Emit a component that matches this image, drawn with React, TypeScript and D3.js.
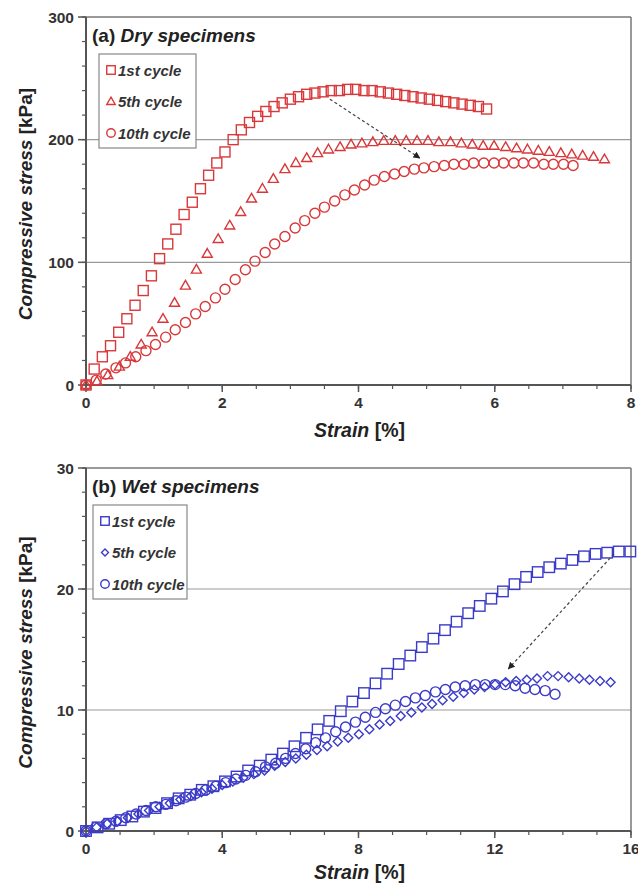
import React from "react";
import * as d3 from "d3";

// (a) dry specimens: [strain %, stress kPa]
const dry1st = [
  [0, 0], [0.12, 13], [0.24, 23], [0.36, 32], [0.48, 43], [0.6, 54], [0.72, 65], [0.84, 77], [0.96, 89],
  [1.08, 103], [1.2, 115], [1.32, 127], [1.44, 139], [1.56, 149], [1.68, 160], [1.8, 171], [1.92, 181],
  [2.04, 190], [2.16, 200], [2.28, 208], [2.4, 214], [2.52, 219], [2.64, 223], [2.76, 227], [2.88, 230],
  [3.0, 233], [3.12, 235], [3.24, 237], [3.36, 238], [3.48, 239], [3.6, 240], [3.72, 240], [3.84, 241],
  [3.96, 241], [4.08, 240], [4.2, 240], [4.32, 239], [4.44, 238], [4.56, 237], [4.68, 236], [4.8, 235],
  [4.92, 234], [5.04, 233], [5.16, 232], [5.28, 231], [5.4, 230], [5.52, 229], [5.64, 228], [5.76, 227],
  [5.88, 225],
];
const dry5th = [
  [0, 0], [0.16, 3], [0.32, 8], [0.49, 15], [0.65, 23], [0.81, 33], [0.97, 43], [1.13, 54], [1.3, 67],
  [1.46, 81], [1.62, 94], [1.78, 107], [1.94, 119], [2.11, 130], [2.27, 141], [2.43, 152], [2.59, 160],
  [2.75, 168], [2.92, 176], [3.08, 181], [3.24, 185], [3.4, 189], [3.56, 192], [3.73, 194], [3.89, 196],
  [4.05, 197], [4.21, 198], [4.37, 199], [4.54, 199], [4.7, 199], [4.86, 199], [5.02, 199], [5.18, 198],
  [5.35, 198], [5.51, 197], [5.67, 196], [5.83, 195], [5.99, 195], [6.16, 194], [6.32, 193], [6.48, 192],
  [6.64, 191], [6.8, 190], [6.97, 189], [7.13, 188], [7.29, 187], [7.45, 186], [7.61, 184],
];
const dry10th = [
  [0, 0], [0.15, 4], [0.29, 9], [0.44, 14], [0.58, 18], [0.73, 23], [0.88, 28], [1.02, 33], [1.17, 39],
  [1.31, 45], [1.46, 51], [1.61, 58], [1.75, 64], [1.9, 71], [2.04, 78], [2.19, 86], [2.34, 94],
  [2.48, 101], [2.63, 108], [2.77, 115], [2.92, 121], [3.07, 128], [3.21, 134], [3.36, 140], [3.5, 145],
  [3.65, 150], [3.8, 155], [3.94, 159], [4.09, 163], [4.23, 167], [4.38, 170], [4.53, 172], [4.67, 174],
  [4.82, 176], [4.96, 177], [5.11, 178], [5.26, 179], [5.4, 180], [5.55, 180], [5.69, 181], [5.84, 181],
  [5.99, 181], [6.13, 181], [6.28, 181], [6.42, 181], [6.57, 181], [6.72, 180], [6.86, 180], [7.01, 180],
  [7.15, 179],
];

// (b) wet specimens
const wet1st = [
  [0, 0], [0.34, 0.3], [0.68, 0.6], [1.02, 0.9], [1.36, 1.2], [1.7, 1.6], [2.04, 1.9], [2.38, 2.3],
  [2.72, 2.7], [3.06, 3.0], [3.4, 3.4], [3.74, 3.7], [4.08, 4.1], [4.42, 4.5], [4.76, 5.0], [5.1, 5.4],
  [5.44, 5.9], [5.78, 6.4], [6.12, 7.0], [6.46, 7.7], [6.8, 8.4], [7.14, 9.1], [7.48, 9.9], [7.82, 10.7],
  [8.16, 11.4], [8.5, 12.2], [8.84, 13.0], [9.18, 13.8], [9.52, 14.5], [9.86, 15.2], [10.2, 15.9],
  [10.54, 16.6], [10.88, 17.3], [11.22, 18.0], [11.56, 18.6], [11.9, 19.2], [12.24, 19.8], [12.58, 20.4],
  [12.92, 21.0], [13.26, 21.4], [13.6, 21.8], [13.94, 22.1], [14.28, 22.4], [14.62, 22.7], [14.96, 22.9],
  [15.3, 23.0], [15.64, 23.1], [15.98, 23.1],
];
const wet5th = [
  [0, 0], [0.31, 0.3], [0.62, 0.6], [0.92, 0.8], [1.23, 1.1], [1.54, 1.4], [1.85, 1.7], [2.16, 2.0],
  [2.46, 2.3], [2.77, 2.6], [3.08, 2.9], [3.39, 3.2], [3.7, 3.5], [4.0, 3.8], [4.31, 4.1], [4.62, 4.4],
  [4.93, 4.7], [5.24, 5.0], [5.54, 5.4], [5.85, 5.7], [6.16, 6.0], [6.47, 6.3], [6.78, 6.7], [7.08, 7.0],
  [7.39, 7.4], [7.7, 7.7], [8.01, 8.0], [8.32, 8.4], [8.62, 8.8], [8.93, 9.1], [9.24, 9.5], [9.55, 9.8],
  [9.86, 10.2], [10.16, 10.5], [10.47, 10.8], [10.78, 11.1], [11.09, 11.4], [11.4, 11.7], [11.7, 11.9],
  [12.01, 12.1], [12.32, 12.3], [12.63, 12.4], [12.94, 12.5], [13.24, 12.6], [13.55, 12.8], [13.86, 12.8],
  [14.17, 12.7], [14.48, 12.6], [14.78, 12.5], [15.09, 12.4], [15.4, 12.3],
];
const wet10th = [
  [0, 0], [0.29, 0.3], [0.59, 0.6], [0.88, 0.8], [1.17, 1.1], [1.47, 1.4], [1.76, 1.7], [2.05, 2.0],
  [2.34, 2.2], [2.64, 2.5], [2.93, 2.8], [3.22, 3.1], [3.52, 3.4], [3.81, 3.7], [4.1, 4.0], [4.4, 4.3],
  [4.69, 4.6], [4.98, 4.9], [5.27, 5.3], [5.57, 5.6], [5.86, 6.0], [6.15, 6.4], [6.45, 6.8], [6.74, 7.3],
  [7.03, 7.7], [7.33, 8.2], [7.62, 8.6], [7.91, 9.0], [8.2, 9.4], [8.5, 9.8], [8.79, 10.1], [9.08, 10.4],
  [9.38, 10.7], [9.67, 11.0], [9.96, 11.2], [10.26, 11.5], [10.55, 11.7], [10.84, 11.9], [11.13, 12.0],
  [11.43, 12.1], [11.72, 12.1], [12.01, 12.1], [12.31, 12.1], [12.6, 12.0], [12.89, 11.8], [13.18, 11.7],
  [13.48, 11.6], [13.77, 11.3],
];

const cycleLabels = ["1st cycle", "5th cycle", "10th cycle"];
const dryTicksX = [0, 2, 4, 6, 8];
const dryTicksY = [0, 100, 200, 300];
const wetTicksX = [0, 4, 8, 12, 16];
const wetTicksY = [0, 10, 20, 30];
const dryArrow = [[3.58, 233], [4.9, 185]];
const wetArrow = [[15.5, 22.9], [12.4, 13.4]];

const RED = "#d9383a";
const BLUE = "#3b3bc8";
const FONT = "'Liberation Sans', Arial, sans-serif";

function Marker({ kind, x, y, size, color }) {
  const s = size;
  if (kind === "square")
    return <rect x={x - s / 2} y={y - s / 2} width={s} height={s} fill="none" stroke={color} strokeWidth={1.4} />;
  if (kind === "circle")
    return <circle cx={x} cy={y} r={s / 2} fill="none" stroke={color} strokeWidth={1.4} />;
  if (kind === "diamond") {
    const d = s * 0.5;
    return <path d={`M${x},${y - d}L${x + d},${y}L${x},${y + d}L${x - d},${y}Z`} fill="none" stroke={color} strokeWidth={1.4} />;
  }
  // triangle
  const h = s * 0.87;
  return <path d={`M${x},${y - h * 0.6}L${x + s / 2},${y + h * 0.4}L${x - s / 2},${y + h * 0.4}Z`} fill="none" stroke={color} strokeWidth={1.4} />;
}

function Panel({ top, bottom, xMax, yMax, xTicks, yTicks, series, kinds, sizes, color, title, tag, legend, arrow, arrowId, xLabelDy }) {
  const left = 86, right = 631;
  const x = d3.scaleLinear().domain([0, xMax]).range([left, right]);
  const y = d3.scaleLinear().domain([0, yMax]).range([bottom, top]);
  const xMinor = d3.range(0, xMax + 0.001, xMax / 16);
  const yMinor = d3.range(0, yMax + 0.001, yMax / 15);
  return (
    <g fontFamily={FONT}>
      {/* grid */}
      {yTicks.filter((t) => t > 0 && t < yMax).map((t) => (
        <line key={"g" + t} x1={left} x2={right} y1={y(t)} y2={y(t)} stroke="#9a9a9a" strokeWidth={1.2} />
      ))}
      <line x1={left} x2={right} y1={top} y2={top} stroke="#777" strokeWidth={1.5} />
      <line x1={right} x2={right} y1={top} y2={bottom} stroke="#777" strokeWidth={1.5} />
      {/* minor ticks */}
      {yMinor.map((t) => (
        <line key={"ym" + t} x1={left - 4} x2={left} y1={y(t)} y2={y(t)} stroke="#555" strokeWidth={1.2} />
      ))}
      {yTicks.map((t) => (
        <line key={"yt" + t} x1={left - 8} x2={left} y1={y(t)} y2={y(t)} stroke="#555" strokeWidth={1.5} />
      ))}
      {xMinor.map((t) => (
        <line key={"xm" + t} x1={x(t)} x2={x(t)} y1={bottom} y2={bottom + 4} stroke="#555" strokeWidth={1.2} />
      ))}
      {xTicks.map((t) => (
        <line key={"xt" + t} x1={x(t)} x2={x(t)} y1={bottom} y2={bottom + 7} stroke="#555" strokeWidth={1.5} />
      ))}
      <line x1={left} x2={left} y1={top} y2={bottom} stroke="#555" strokeWidth={2} />
      <line x1={left} x2={right} y1={bottom} y2={bottom} stroke="#555" strokeWidth={2} />
      {/* tick labels */}
      {yTicks.map((t) => (
        <text key={"yl" + t} x={left - 12} y={y(t) + 5.5} textAnchor="end" fontSize={15.5} fontWeight="bold" fill="#333">{t}</text>
      ))}
      {xTicks.map((t) => (
        <text key={"xl" + t} x={x(t)} y={bottom + 23} textAnchor="middle" fontSize={15.5} fontWeight="bold" fill="#333">{t}</text>
      ))}
      {/* axis titles */}
      <text x={x(xMax / 2) + 1} y={bottom + xLabelDy} textAnchor="middle" fontSize={19.5} fontWeight="bold" fill="#222">
        <tspan fontStyle="italic">Strain</tspan> [%]
      </text>
      <text transform={`translate(32,${(top + bottom) / 2 + 3}) rotate(-90)`} textAnchor="middle" fontSize={19} fontWeight="bold" fill="#222">
        <tspan fontStyle="italic">Compressive stress</tspan> [kPa]
      </text>
      {/* series */}
      {series.map((s, i) => (
        <g key={"s" + i}>
          {s.map((p, j) => (
            <Marker key={j} kind={kinds[i]} x={x(p[0])} y={y(p[1])} size={sizes[i]} color={color} />
          ))}
        </g>
      ))}
      {/* arrow */}
      <line x1={x(arrow[0][0])} y1={y(arrow[0][1])} x2={x(arrow[1][0])} y2={y(arrow[1][1])} stroke="#444" strokeWidth={1.2} strokeDasharray="3,2.5" markerEnd={`url(#${arrowId})`} />
      {/* title */}
      <text x={left + 6} y={top + 24.5} fontSize={19} fontWeight="bold" fill="#222">
        {tag} <tspan fontStyle="italic">{title}</tspan>
      </text>
      {/* legend */}
      <rect x={legend.x} y={legend.y} width={legend.w} height={94} fill="white" stroke="#888" strokeWidth={1.2} />
      {cycleLabels.map((l, i) => (
        <g key={"l" + i}>
          <Marker kind={kinds[i]} x={legend.x + 12} y={legend.y + 16 + i * 31.5} size={i === 1 && kinds[i] === "diamond" ? 7 : 8.5} color={color} />
          <text x={legend.x + 19} y={legend.y + 21.5 + i * 31.5} fontSize={15} fontWeight="bold" fontStyle="italic" fill="#333">{l}</text>
        </g>
      ))}
    </g>
  );
}

export default function App() {
  return (
    <svg width={638} height={884} style={{ position: "absolute", left: 0, top: 0, background: "white" }}>
      <defs>
        {["arrA", "arrB"].map((id) => (
          <marker key={id} id={id} viewBox="0 0 10 10" refX={9} refY={5} markerWidth={7} markerHeight={7} orient="auto" markerUnits="userSpaceOnUse">
            <path d="M0,0L10,5L0,10Z" fill="#222" />
          </marker>
        ))}
      </defs>
      <Panel
        top={17} bottom={385} xMax={8} yMax={300}
        xTicks={dryTicksX} yTicks={dryTicksY}
        series={[dry1st, dry5th, dry10th]}
        kinds={["square", "triangle", "circle"]}
        sizes={[10, 10, 10]}
        color={RED} tag="(a)" title="Dry specimens"
        legend={{ x: 99, y: 54, w: 97 }}
        arrow={dryArrow} arrowId="arrA" xLabelDy={52}
      />
      <Panel
        top={468} bottom={831} xMax={16} yMax={30}
        xTicks={wetTicksX} yTicks={wetTicksY}
        series={[wet1st, wet5th, wet10th]}
        kinds={["square", "diamond", "circle"]}
        sizes={[10.5, 9, 10]}
        color={BLUE} tag="(b)" title="Wet specimens"
        legend={{ x: 93, y: 505, w: 94 }}
        arrow={wetArrow} arrowId="arrB" xLabelDy={48}
      />
    </svg>
  );
}
